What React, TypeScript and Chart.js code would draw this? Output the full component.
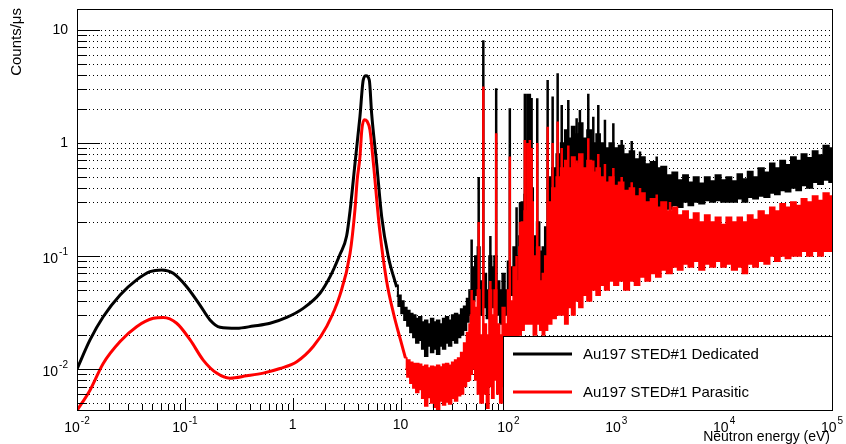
import React, { useEffect, useRef } from 'react';
import { Chart, registerables } from 'chart.js';

Chart.register(...registerables);

// ---------- data ----------
const blackCurveE = [0.01, 0.0132, 0.0175, 0.0251, 0.0357, 0.0475, 0.061, 0.078, 0.104, 0.138, 0.171, 0.212, 0.303, 0.432, 0.616, 0.879, 1.25, 1.79, 2.22, 2.74, 3.16, 3.4, 3.78, 4.2, 4.51, 4.78, 5.13, 5.39, 6.0, 6.68, 7.69, 9.2];
const blackCurveV = [0.0100, 0.0181, 0.029, 0.0452, 0.0614, 0.0726, 0.0752, 0.0703, 0.0535, 0.0368, 0.0272, 0.0234, 0.0229, 0.024, 0.0254, 0.0286, 0.0344, 0.0468, 0.0656, 0.103, 0.15, 0.25, 0.66, 1.71, 3.61, 3.92, 3.6, 1.83, 0.66, 0.223, 0.099, 0.053];

const redCurveE = [0.01, 0.0132, 0.0175, 0.0251, 0.0357, 0.0509, 0.063, 0.084, 0.112, 0.148, 0.197, 0.262, 0.374, 0.533, 0.762, 1.09, 1.55, 2.06, 2.74, 3.4, 3.78, 3.96, 4.2, 4.37, 4.6, 4.9, 5.2, 5.6, 6.4, 7.4, 8.6, 10.0, 11.1];
const redCurveV = [0.0043, 0.0065, 0.0112, 0.0175, 0.0237, 0.0281, 0.0286, 0.0254, 0.0181, 0.012, 0.0092, 0.0083, 0.0087, 0.0092, 0.0101, 0.0116, 0.0158, 0.0237, 0.045, 0.105, 0.26, 0.47, 0.75, 1.3, 1.6, 1.55, 1.3, 0.66, 0.17, 0.061, 0.031, 0.018, 0.0125];

const spikeE = [45.6, 53, 58.5, 68, 77, 103, 119, 128, 142, 150, 158, 164, 185, 231, 257, 286, 312, 359, 429, 460, 550, 612, 681, 785, 939, 1122, 1390, 1660, 2370, 3150];
const blackSpikeTop = [0.14, 0.5, 8.1, 0.15, 3.05, 2.03, 0.27, 0.3, 2.72, 2.72, 2.72, 2.5, 2.49, 3.61, 2.57, 4.14, 2.17, 2.4, 1.65, 1.96, 2.72, 1.7, 2.17, 1.6, 1.49, 1.06, 1.04, 0.84, 0.76, 0.5];
const blackSpikeBase = [0.05, 0.05, 0.05, 0.05, 0.05, 0.05, 0.05, 0.06, 0.08, 0.08, 0.08, 0.08, 0.07, 0.08, 0.1, 0.12, 0.15, 0.18, 0.2, 0.22, 0.25, 0.25, 0.25, 0.25, 0.25, 0.25, 0.25, 0.26, 0.25, 0.26];
const redSpikeTop = [0.05, 0.2, 3.15, 0.06, 1.22, 0.76, 0.1, 0.2, 1.06, 1.0, 1.06, 0.9, 1.0, 1.39, 1.0, 1.55, 0.9, 0.95, 0.7, 0.8, 1.1, 0.7, 0.8, 0.65, 0.6, 0.5, 0.45, 0.4, 0.35, 0.3];
const redSpikeBase = [0.012, 0.012, 0.012, 0.012, 0.012, 0.012, 0.015, 0.02, 0.025, 0.025, 0.025, 0.025, 0.025, 0.025, 0.028, 0.03, 0.035, 0.04, 0.045, 0.045, 0.05, 0.055, 0.055, 0.06, 0.06, 0.065, 0.065, 0.065, 0.07, 0.075];

const blackBandE = [9.2, 9.8, 10.4, 11.1, 11.8, 12.6, 13.4, 14.3, 15.2, 16.2, 17.3, 18.4, 19.6, 20.9, 22.3, 23.8, 25.3, 27.0, 28.8, 30.7, 32.7, 34.9, 37.2, 39.6, 42.2, 44, 45, 47.5, 50, 53, 56, 61, 64, 68, 72, 75, 81, 85, 90, 96, 100, 108, 113, 122, 128, 135, 145, 165, 175, 190, 200, 212, 222, 240, 265, 290, 320, 345, 370, 400, 430, 470, 510, 560, 620, 680, 740, 820, 900, 1000, 1100, 1250, 1400, 1550, 1750, 1950, 2200, 2450, 2750, 3100, 3500, 3900, 4400, 4900, 5500, 6200, 7000, 7800, 8800, 9900, 11000, 12500, 14000, 15500, 17500, 19500, 22000, 25000, 28000, 31000, 35000, 39000, 44000, 49000, 55000, 62000, 70000, 78000, 88000, 100000];
const blackBandHi = [0.055, 0.045, 0.040, 0.035, 0.033, 0.031, 0.030, 0.028, 0.029, 0.026, 0.027, 0.025, 0.028, 0.026, 0.027, 0.025, 0.028, 0.029, 0.027, 0.030, 0.031, 0.030, 0.034, 0.036, 0.042, 0.05, 0.05, 0.08, 0.10, 0.12, 0.06, 0.07, 0.05, 0.10, 0.08, 0.10, 0.06, 0.05, 0.07, 0.05, 0.09, 0.08, 0.12, 0.10, 0.15, 0.30, 0.35, 0.40, 0.15, 0.20, 0.11, 0.12, 0.18, 0.50, 0.60, 0.80, 1.0, 1.3, 1.1, 1.4, 1.2, 1.5, 1.1, 1.3, 1.0, 1.2, 1.0, 0.9, 1.0, 0.9, 0.95, 0.8, 0.85, 0.72, 0.75, 0.65, 0.68, 0.60, 0.62, 0.52, 0.55, 0.47, 0.52, 0.45, 0.50, 0.44, 0.50, 0.46, 0.52, 0.47, 0.50, 0.46, 0.53, 0.48, 0.56, 0.50, 0.60, 0.55, 0.66, 0.60, 0.70, 0.64, 0.75, 0.70, 0.80, 0.74, 0.85, 0.78, 0.95, 0.90];
const blackBandLo = [0.044, 0.036, 0.031, 0.027, 0.024, 0.021, 0.019, 0.017, 0.018, 0.015, 0.013, 0.016, 0.014, 0.015, 0.0135, 0.016, 0.015, 0.017, 0.016, 0.018, 0.017, 0.019, 0.020, 0.022, 0.026, 0.03, 0.03, 0.04, 0.045, 0.05, 0.03, 0.035, 0.028, 0.04, 0.035, 0.05, 0.03, 0.025, 0.035, 0.03, 0.04, 0.045, 0.05, 0.05, 0.06, 0.07, 0.08, 0.08, 0.06, 0.07, 0.06, 0.05, 0.07, 0.08, 0.10, 0.12, 0.15, 0.15, 0.18, 0.20, 0.20, 0.22, 0.22, 0.25, 0.25, 0.25, 0.27, 0.25, 0.25, 0.28, 0.25, 0.27, 0.25, 0.26, 0.25, 0.25, 0.25, 0.26, 0.25, 0.26, 0.28, 0.27, 0.30, 0.28, 0.30, 0.29, 0.31, 0.30, 0.31, 0.30, 0.30, 0.30, 0.32, 0.30, 0.33, 0.32, 0.34, 0.33, 0.36, 0.35, 0.38, 0.37, 0.40, 0.38, 0.42, 0.40, 0.45, 0.43, 0.47, 0.45];

const redBandE = [11.1, 11.8, 12.6, 13.4, 14.3, 15.2, 16.2, 17.3, 18.4, 19.6, 20.9, 22.3, 23.8, 25.3, 27.0, 28.8, 30.7, 32.7, 34.9, 37.2, 39.6, 42.2, 44, 45, 47.5, 50, 53, 56, 61, 64, 68, 72, 75, 81, 85, 90, 96, 100, 108, 113, 122, 128, 135, 145, 165, 175, 190, 200, 212, 222, 240, 265, 290, 320, 345, 370, 400, 430, 470, 510, 560, 620, 680, 740, 820, 900, 1000, 1100, 1250, 1400, 1550, 1750, 1950, 2200, 2450, 2750, 3100, 3500, 3900, 4400, 4900, 5500, 6200, 7000, 7800, 8800, 9900, 11000, 12500, 14000, 15500, 17500, 19500, 22000, 25000, 28000, 31000, 35000, 39000, 44000, 49000, 55000, 62000, 70000, 78000, 88000, 100000];
const redBandHi = [0.0125, 0.012, 0.0115, 0.0112, 0.0112, 0.011, 0.0105, 0.0108, 0.0102, 0.0106, 0.0104, 0.0108, 0.0104, 0.011, 0.0112, 0.0108, 0.0115, 0.012, 0.0125, 0.014, 0.017, 0.021, 0.025, 0.03, 0.04, 0.035, 0.05, 0.02, 0.025, 0.02, 0.05, 0.03, 0.05, 0.025, 0.02, 0.035, 0.025, 0.05, 0.04, 0.08, 0.06, 0.12, 0.20, 0.25, 0.30, 0.10, 0.12, 0.06, 0.07, 0.10, 0.30, 0.40, 0.50, 0.60, 0.70, 0.60, 0.75, 0.65, 0.80, 0.60, 0.70, 0.55, 0.60, 0.50, 0.45, 0.50, 0.42, 0.45, 0.38, 0.40, 0.34, 0.36, 0.30, 0.32, 0.27, 0.30, 0.25, 0.27, 0.23, 0.25, 0.21, 0.24, 0.20, 0.23, 0.20, 0.22, 0.19, 0.22, 0.20, 0.22, 0.20, 0.23, 0.21, 0.25, 0.23, 0.27, 0.25, 0.29, 0.27, 0.30, 0.28, 0.32, 0.30, 0.34, 0.31, 0.36, 0.34];
const redBandLo = [0.010, 0.0085, 0.0075, 0.0068, 0.0062, 0.0066, 0.0055, 0.0047, 0.0056, 0.005, 0.0046, 0.0043, 0.0052, 0.0048, 0.0051, 0.0049, 0.0055, 0.0052, 0.0058, 0.006, 0.007, 0.0078, 0.008, 0.009, 0.01, 0.008, 0.006, 0.005, 0.006, 0.0045, 0.007, 0.0055, 0.008, 0.006, 0.005, 0.007, 0.006, 0.01, 0.012, 0.015, 0.014, 0.02, 0.022, 0.025, 0.025, 0.02, 0.025, 0.022, 0.02, 0.022, 0.025, 0.028, 0.03, 0.03, 0.025, 0.035, 0.03, 0.04, 0.035, 0.045, 0.04, 0.05, 0.045, 0.055, 0.05, 0.06, 0.055, 0.06, 0.05, 0.06, 0.055, 0.065, 0.06, 0.07, 0.065, 0.075, 0.07, 0.08, 0.075, 0.085, 0.08, 0.09, 0.075, 0.085, 0.08, 0.09, 0.08, 0.085, 0.075, 0.08, 0.07, 0.085, 0.08, 0.09, 0.085, 0.10, 0.09, 0.10, 0.095, 0.10, 0.10, 0.11, 0.10, 0.11, 0.10, 0.11, 0.11];

const xTickExponents = [-2, -1, 0, 1, 2, 3, 4, 5];
const yTickExponents = [-2, -1, 0, 1];
const legendLabels = ['Au197 STED#1 Dedicated', 'Au197 STED#1 Parasitic'];
const xTitle = 'Neutron energy (eV)';
const yTitle = 'Counts/\u03bcs';

// ---------- helpers ----------
const pts = (E: number[], V: number[]) => E.map((e, i) => ({ x: e, y: V[i] }));
const spikePts = (E: number[], top: number[], base: number[]) =>
  E.flatMap((e, i) => [{ x: e, y: base[i] }, { x: e, y: top[i] }, { x: e, y: null as any }]);

const FONT = '"Liberation Sans", Arial, Helvetica, sans-serif';

function drawPow(ctx: CanvasRenderingContext2D, exp: number, x: number, y: number, align: 'center' | 'right') {
  let base = '10';
  let sup = '';
  if (exp === 0) base = '1';
  else if (exp !== 1) sup = exp < 0 ? '-' + Math.abs(exp) : String(exp);
  ctx.font = '14px ' + FONT;
  const wb = ctx.measureText(base).width;
  ctx.font = '10px ' + FONT;
  const ws = sup ? ctx.measureText(sup).width + 1 : 0;
  const total = wb + ws;
  const start = align === 'center' ? x - total / 2 : x - total;
  ctx.textAlign = 'left';
  ctx.textBaseline = 'middle';
  ctx.font = '14px ' + FONT;
  ctx.fillText(base, start, sup ? y + 3 : y);
  if (sup) {
    ctx.font = '10px ' + FONT;
    ctx.fillText(sup, start + wb + 1, y - 4);
  }
}

const rootAxes = {
  id: 'rootAxes',
  beforeDatasetsDraw(chart: any) {
    const { ctx, chartArea: a, scales } = chart;
    const ys = scales.y;
    ctx.save();
    ctx.strokeStyle = '#000';
    ctx.lineWidth = 1;
    ctx.setLineDash([1, 3]);
    for (let d = -3; d <= 1; d++) {
      for (let m = 1; m <= 9; m++) {
        const v = m * Math.pow(10, d);
        if (v < ys.min || v > ys.max) continue;
        const y = Math.round(ys.getPixelForValue(v)) + 0.5;
        ctx.beginPath();
        ctx.moveTo(a.left, y);
        ctx.lineTo(a.right, y);
        ctx.stroke();
      }
    }
    ctx.restore();
  },
  afterDraw(chart: any) {
    const { ctx, chartArea: a, scales } = chart;
    const xs = scales.x;
    const ys = scales.y;
    ctx.save();
    ctx.fillStyle = '#000';
    ctx.strokeStyle = '#000';
    ctx.lineWidth = 1;
    ctx.setLineDash([]);
    // y ticks
    for (let d = -3; d <= 1; d++) {
      for (let m = 1; m <= 9; m++) {
        const v = m * Math.pow(10, d);
        if (v < ys.min || v > ys.max) continue;
        const y = Math.round(ys.getPixelForValue(v)) + 0.5;
        const len = m === 1 ? 23 : 10;
        ctx.beginPath();
        ctx.moveTo(a.left, y);
        ctx.lineTo(a.left + len, y);
        ctx.stroke();
      }
    }
    // x ticks
    for (let d = -2; d <= 5; d++) {
      for (let m = 1; m <= 9; m++) {
        const v = m * Math.pow(10, d);
        if (v < xs.min * 0.999 || v > xs.max * 1.001) continue;
        const x = Math.round(xs.getPixelForValue(v)) + 0.5;
        const len = m === 1 ? 12 : 6;
        ctx.beginPath();
        ctx.moveTo(x, a.bottom);
        ctx.lineTo(x, a.bottom - len);
        ctx.stroke();
      }
    }
    // legend box
    const lx = 503, ly = 336, lw = a.right - 503, lh = a.bottom - 336;
    ctx.fillStyle = '#fff';
    ctx.fillRect(lx, ly, lw, lh);
    ctx.strokeStyle = '#000';
    ctx.strokeRect(lx + 0.5, ly + 0.5, lw, lh);
    const legendColors = ['#000000', '#ff0000'];
    const rows = [354, 392];
    rows.forEach((ry, i) => {
      ctx.strokeStyle = legendColors[i];
      ctx.lineWidth = 3;
      ctx.beginPath();
      ctx.moveTo(513, ry);
      ctx.lineTo(572, ry);
      ctx.stroke();
      ctx.fillStyle = '#000';
      ctx.font = '15px ' + FONT;
      ctx.textAlign = 'left';
      ctx.textBaseline = 'middle';
      ctx.fillText(legendLabels[i], 583, ry + 1);
    });
    // frame
    ctx.lineWidth = 1;
    ctx.strokeStyle = '#000';
    ctx.strokeRect(Math.round(a.left) + 0.5, Math.round(a.top) + 0.5, Math.round(a.right - a.left), Math.round(a.bottom - a.top));
    // labels
    ctx.fillStyle = '#000';
    xTickExponents.forEach((e) => {
      drawPow(ctx, e, xs.getPixelForValue(Math.pow(10, e)), 425, 'center');
    });
    yTickExponents.forEach((e) => {
      drawPow(ctx, e, 68, ys.getPixelForValue(Math.pow(10, e)), 'right');
    });
    ctx.font = '14px ' + FONT;
    ctx.textAlign = 'right';
    ctx.textBaseline = 'alphabetic';
    ctx.fillText(xTitle, 830, 441);
    ctx.save();
    ctx.translate(21, 8);
    ctx.rotate(-Math.PI / 2);
    ctx.font = '15px ' + FONT;
    ctx.textAlign = 'right';
    ctx.textBaseline = 'alphabetic';
    ctx.fillText(yTitle, 0, 0);
    ctx.restore();
    ctx.restore();
  },
};

export default function App() {
  const ref = useRef<HTMLCanvasElement | null>(null);
  useEffect(() => {
    if (!ref.current) return;
    const common = { pointRadius: 0, pointHoverRadius: 0, tension: 0 };
    const chart = new Chart(ref.current, {
      type: 'line',
      data: {
        datasets: [
          { ...common, label: 'redCurve', data: pts(redCurveE, redCurveV), borderColor: '#ff0000', borderWidth: 3, fill: false, cubicInterpolationMode: 'monotone', order: 0 },
          { ...common, label: 'redSpikes', data: spikePts(spikeE, redSpikeTop, redSpikeBase), borderColor: '#ff0000', borderWidth: 2.5, fill: false, spanGaps: false, order: 1 },
          { ...common, label: 'redHi', data: pts(redBandE, redBandHi), borderColor: '#ff0000', backgroundColor: '#ff0000', borderWidth: 1.5, stepped: 'middle', fill: '+1', order: 2 },
          { ...common, label: 'redLo', data: pts(redBandE, redBandLo), borderColor: '#ff0000', borderWidth: 1.5, stepped: 'middle', fill: false, order: 3 },
          { ...common, label: 'blackCurve', data: pts(blackCurveE, blackCurveV), borderColor: '#000000', borderWidth: 3, fill: false, cubicInterpolationMode: 'monotone', order: 4 },
          { ...common, label: 'blackSpikes', data: spikePts(spikeE, blackSpikeTop, blackSpikeBase), borderColor: '#000000', borderWidth: 2.5, fill: false, spanGaps: false, order: 5 },
          { ...common, label: 'blackHi', data: pts(blackBandE, blackBandHi), borderColor: '#000000', backgroundColor: '#000000', borderWidth: 1.5, stepped: 'middle', fill: '+1', order: 6 },
          { ...common, label: 'blackLo', data: pts(blackBandE, blackBandLo), borderColor: '#000000', borderWidth: 1.5, stepped: 'middle', fill: false, order: 7 },
        ] as any,
      },
      options: {
        responsive: false,
        animation: false,
        devicePixelRatio: 1,
        layout: { padding: { left: 77, top: 9, right: 14, bottom: 34 } },
        plugins: { legend: { display: false }, tooltip: { enabled: false } },
        events: [],
        scales: {
          x: { type: 'logarithmic', min: 0.01, max: 100000, display: false },
          y: { type: 'logarithmic', min: 0.00434, max: 15.3, display: false },
        },
      } as any,
      plugins: [rootAxes],
    });
    return () => chart.destroy();
  }, []);
  return (
    <div style={{ position: 'fixed', left: 0, top: 0, width: 846, height: 444, background: '#fff' }}>
      <canvas ref={ref} width={846} height={444} style={{ display: 'block' }} />
    </div>
  );
}
